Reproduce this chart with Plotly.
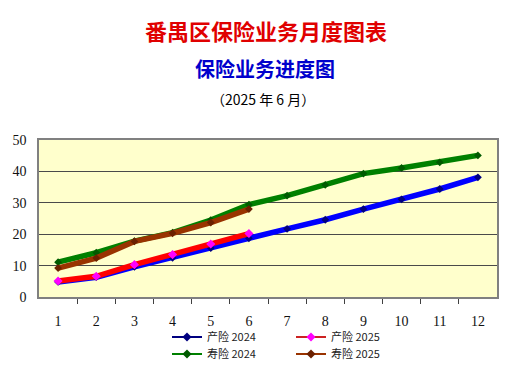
import plotly.graph_objects as go

months = list(range(1, 13))
month_labels = [str(m) for m in months]
y_ticks = [0, 10, 20, 30, 40, 50]

chan_2024 = [4.8, 6.3, 9.6, 12.5, 15.6, 18.7, 21.7, 24.6, 28.0, 31.1, 34.4, 38.1]
chan_2025 = [5.1, 6.6, 10.3, 13.5, 16.9, 20.2]
shou_2024 = [11.1, 14.1, 17.8, 20.5, 24.5, 29.4, 32.3, 35.7, 39.3, 41.1, 42.9, 45.1]
shou_2025 = [9.2, 12.4, 17.7, 20.3, 23.7, 28.0]

series = [
    ("产险 2024", chan_2024, "#0000FF", "#000080", "legend", 6),
    ("寿险 2024", shou_2024, "#008000", "#005a00", "legend2", 6),
    ("产险 2025", chan_2025, "#FF0000", "#FF00FF", "legend", 7),
    ("寿险 2025", shou_2025, "#993300", "#6b2000", "legend2", 6),
]
legend_line = {"产险 2024": "#000080", "寿险 2024": "#008000",
               "产险 2025": "#cc2222", "寿险 2025": "#993300"}

fig = go.Figure()
for name, vals, lc, mc, lg, ms in series:
    fig.add_trace(go.Scatter(
        x=months[:len(vals)], y=vals, mode="lines+markers", name=name,
        line=dict(color=lc, width=5.5),
        marker=dict(symbol="diamond", size=ms, color=mc),
        showlegend=False))
for name, vals, lc, mc, lg, ms in series:
    fig.add_trace(go.Scatter(
        x=[None], y=[None], mode="lines+markers", name=name,
        line=dict(color=legend_line[name], width=2),
        marker=dict(symbol="diamond", size=7, color=mc),
        legend=lg, showlegend=True))

# page body has an 8px default margin; positions below are in page pixels
OFF = 8
PLOT_TOP, PLOT_BOT, PLOT_L, PLOT_R = 140, 297, 39, 497
PH = PLOT_BOT - PLOT_TOP
PW = PLOT_R - PLOT_L
W, H = 510 - OFF, 374 - OFF

def py(pix):
    return (PLOT_BOT - pix) / PH

def px(pix):
    return (pix - PLOT_L) / PW

leg_common = dict(orientation="h", xanchor="left", yanchor="middle",
                  entrywidth=79, itemwidth=30, tracegroupgap=0,
                  font=dict(family="Noto Sans CJK SC", size=11, color="#222222"),
                  bgcolor="rgba(0,0,0,0)")

fig.update_layout(
    width=W, height=H,
    margin=dict(l=PLOT_L - OFF, r=510 - PLOT_R, t=PLOT_TOP - OFF, b=374 - PLOT_BOT,
                autoexpand=False),
    paper_bgcolor="white", plot_bgcolor="#FFFFCC",
    font=dict(family="Liberation Serif", size=14, color="#111111"),
    legend=dict(x=px(167), y=py(337), **leg_common),
    legend2=dict(x=px(167), y=py(354), **leg_common),
    xaxis=dict(range=[0.5, 12.5], tickvals=months, ticktext=month_labels,
               ticks="outside", ticklen=10, tickcolor="rgba(0,0,0,0)",
               showgrid=False, zeroline=False,
               showline=True, linecolor="#808080", linewidth=2, mirror=True,
               minor=dict(tickvals=[m + 0.5 for m in months[:-1]], ticks="outside",
                          ticklen=5, tickcolor="#404040", showgrid=False),
               fixedrange=True),
    yaxis=dict(range=[0, 50], tickvals=y_ticks, ticks="outside", ticklen=8,
               tickcolor="rgba(0,0,0,0)", showgrid=True, gridcolor="#4a4a4a",
               gridwidth=1, zeroline=False,
               showline=True, linecolor="#808080", linewidth=1.5, mirror=True),
)

ann = dict(xref="paper", yref="paper", showarrow=False,
           xanchor="center", yanchor="middle")
fig.add_annotation(text="<b>番禺区保险业务月度图表</b>", x=px(266), y=py(30),
                   font=dict(family="Noto Sans CJK SC", size=22, color="#e00000"), **ann)
fig.add_annotation(text="<b>保险业务进度图</b>", x=px(265), y=py(68),
                   font=dict(family="Noto Sans CJK SC", size=20, color="#0000cc"), **ann)
fig.add_annotation(text="（2025 年 6 月）", x=px(263), y=py(99),
                   font=dict(family="Noto Sans CJK SC", size=14, color="#000000"), **ann)

fig.write_html("out.html")
